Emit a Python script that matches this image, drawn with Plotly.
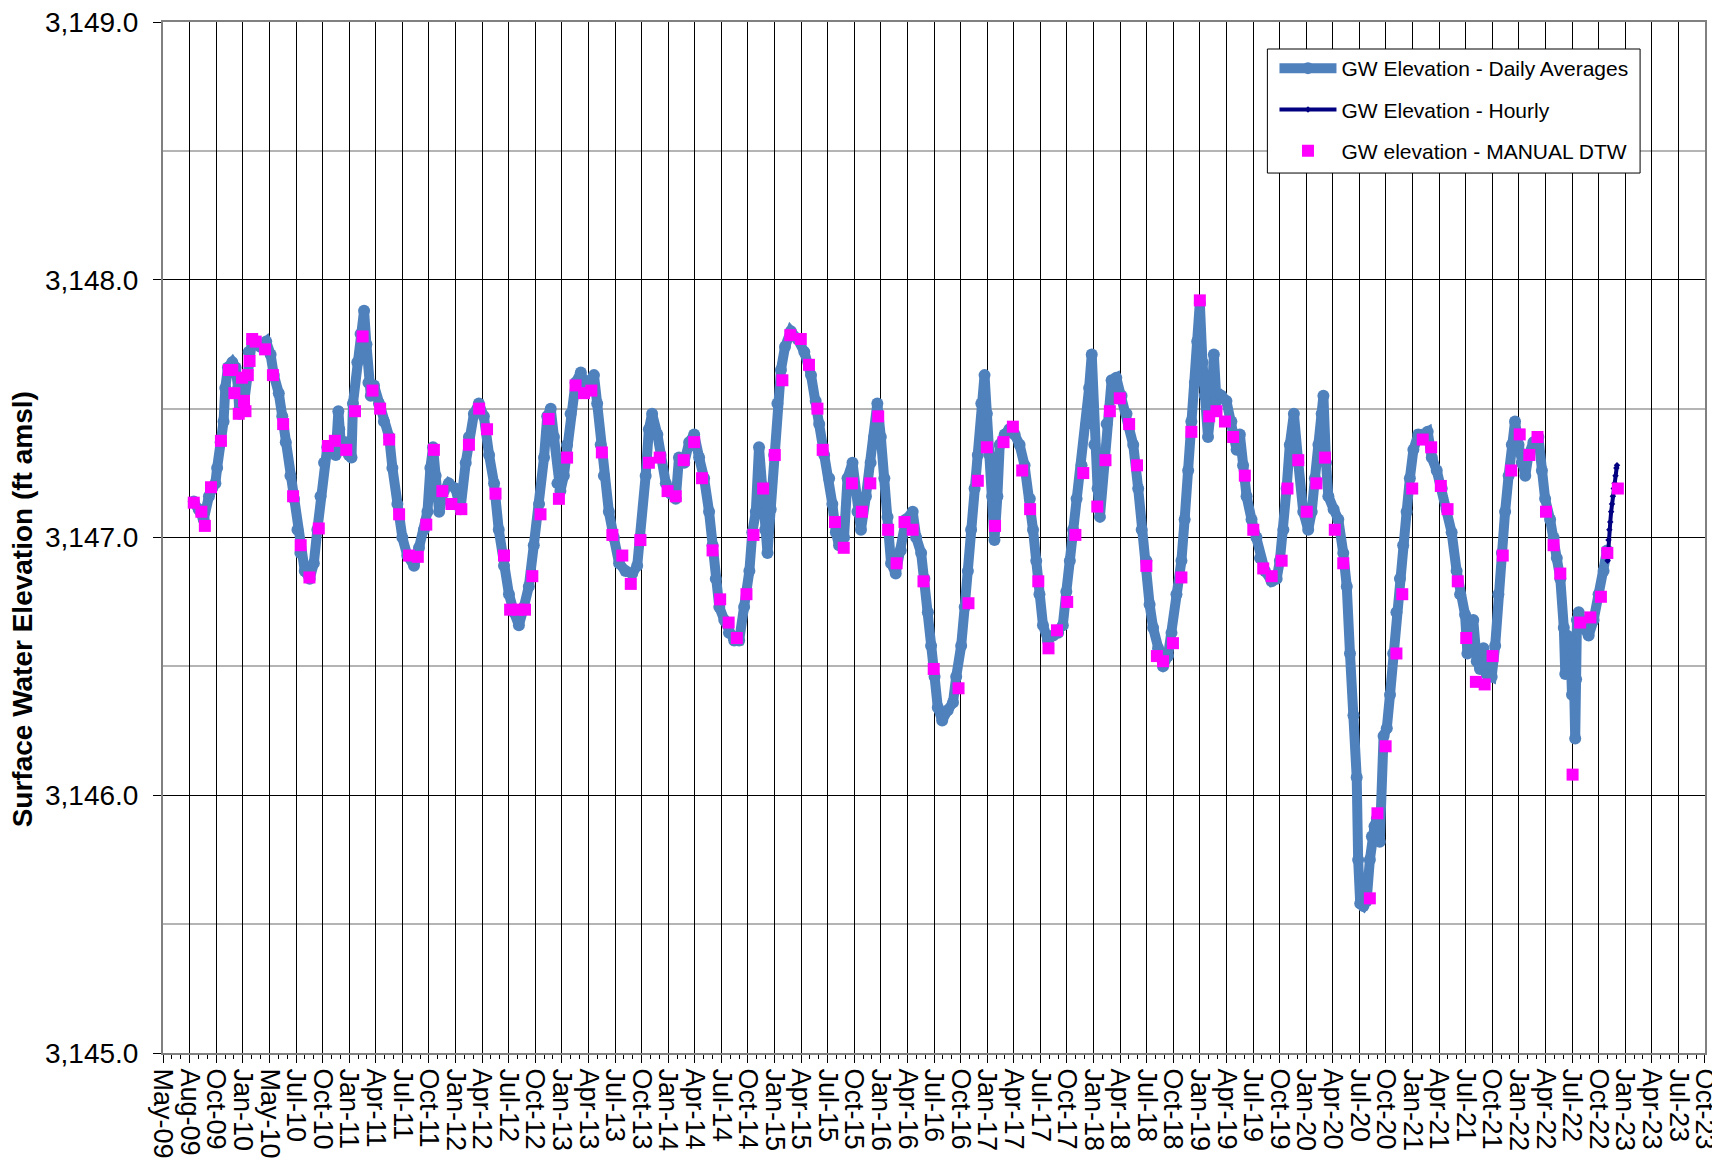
import pandas as pd
import plotly.graph_objects as go

# ---- data (dates as Excel serial day numbers) ----
daily_points = [
    (40040, 3147.14), (40057, 3147.11), (40074, 3147.07), (40092, 3147.16), (40102, 3147.19), (40114, 3147.21),
    (40120, 3147.27), (40132, 3147.37), (40142, 3147.45), (40148, 3147.58), (40157, 3147.66), (40172, 3147.68),
    (40183, 3147.66), (40192, 3147.58), (40196, 3147.48), (40212, 3147.52), (40223, 3147.63), (40228, 3147.72),
    (40240, 3147.77), (40251, 3147.75), (40268, 3147.74), (40288, 3147.76), (40303, 3147.71), (40314, 3147.63),
    (40331, 3147.56), (40343, 3147.47), (40355, 3147.37), (40371, 3147.24), (40383, 3147.15), (40395, 3147.03),
    (40405, 3146.94), (40420, 3146.87), (40437, 3146.84), (40451, 3146.90), (40463, 3147.03), (40474, 3147.16),
    (40486, 3147.29), (40497, 3147.35), (40514, 3147.36), (40526, 3147.32), (40535, 3147.49), (40538, 3147.42),
    (40543, 3147.37), (40560, 3147.37), (40571, 3147.32), (40580, 3147.31), (40585, 3147.52), (40600, 3147.68),
    (40611, 3147.79), (40623, 3147.88), (40631, 3147.75), (40638, 3147.60), (40646, 3147.55), (40657, 3147.59),
    (40674, 3147.52), (40691, 3147.45), (40709, 3147.39), (40720, 3147.27), (40737, 3147.13), (40754, 3147.00),
    (40771, 3146.93), (40794, 3146.89), (40811, 3146.96), (40828, 3147.03), (40840, 3147.10), (40850, 3147.27),
    (40859, 3147.35), (40868, 3147.24), (40880, 3147.10), (40896, 3147.18), (40913, 3147.21), (40936, 3147.19),
    (40953, 3147.11), (40971, 3147.29), (40982, 3147.39), (40999, 3147.48), (41016, 3147.52), (41033, 3147.47),
    (41051, 3147.32), (41068, 3147.21), (41084, 3147.03), (41102, 3146.89), (41119, 3146.78), (41136, 3146.71),
    (41153, 3146.66), (41170, 3146.73), (41187, 3146.81), (41204, 3146.97), (41222, 3147.13), (41239, 3147.31),
    (41250, 3147.47), (41262, 3147.50), (41273, 3147.39), (41285, 3147.21), (41295, 3147.18), (41307, 3147.24),
    (41318, 3147.36), (41330, 3147.48), (41347, 3147.60), (41365, 3147.64), (41381, 3147.58), (41398, 3147.61),
    (41410, 3147.63), (41421, 3147.52), (41433, 3147.36), (41444, 3147.24), (41461, 3147.10), (41478, 3147.00),
    (41496, 3146.90), (41518, 3146.87), (41541, 3146.86), (41558, 3146.89), (41569, 3147.00), (41587, 3147.24),
    (41598, 3147.42), (41609, 3147.48), (41627, 3147.40), (41638, 3147.32), (41656, 3147.21), (41673, 3147.17),
    (41690, 3147.15), (41701, 3147.31), (41719, 3147.29), (41736, 3147.37), (41753, 3147.40), (41770, 3147.31),
    (41787, 3147.23), (41804, 3147.10), (41816, 3146.97), (41827, 3146.84), (41839, 3146.73), (41856, 3146.68),
    (41872, 3146.63), (41890, 3146.60), (41907, 3146.60), (41924, 3146.73), (41942, 3146.87), (41952, 3147.02),
    (41964, 3147.10), (41975, 3147.35), (41987, 3147.20), (41996, 3147.03), (42004, 3146.94), (42015, 3147.11),
    (42027, 3147.32), (42038, 3147.52), (42050, 3147.65), (42064, 3147.74), (42084, 3147.80), (42107, 3147.77),
    (42130, 3147.72), (42153, 3147.63), (42169, 3147.53), (42181, 3147.44), (42198, 3147.32), (42215, 3147.23),
    (42226, 3147.13), (42238, 3147.02), (42249, 3146.97), (42266, 3147.00), (42278, 3147.23), (42295, 3147.29),
    (42312, 3147.10), (42324, 3147.03), (42341, 3147.16), (42357, 3147.29), (42369, 3147.39), (42380, 3147.52),
    (42392, 3147.39), (42404, 3147.23), (42415, 3147.08), (42427, 3146.90), (42443, 3146.86), (42460, 3146.95),
    (42478, 3147.07), (42501, 3147.10), (42513, 3147.00), (42530, 3146.94), (42541, 3146.84), (42553, 3146.71),
    (42564, 3146.58), (42576, 3146.46), (42587, 3146.34), (42602, 3146.29), (42621, 3146.33), (42639, 3146.36),
    (42650, 3146.46), (42667, 3146.58), (42679, 3146.73), (42690, 3146.87), (42701, 3147.03), (42713, 3147.19),
    (42724, 3147.32), (42736, 3147.52), (42747, 3147.63), (42755, 3147.48), (42764, 3147.32), (42773, 3147.16),
    (42781, 3146.99), (42791, 3147.16), (42799, 3147.36), (42816, 3147.40), (42832, 3147.42), (42850, 3147.40),
    (42867, 3147.36), (42884, 3147.28), (42902, 3147.15), (42913, 3147.03), (42924, 3146.91), (42935, 3146.78),
    (42947, 3146.66), (42964, 3146.60), (42982, 3146.62), (42999, 3146.63), (43015, 3146.66), (43027, 3146.79),
    (43039, 3146.91), (43050, 3147.03), (43062, 3147.15), (43079, 3147.28), (43096, 3147.44), (43105, 3147.58),
    (43114, 3147.71), (43123, 3147.36), (43134, 3147.19), (43142, 3147.08), (43154, 3147.28), (43165, 3147.44),
    (43182, 3147.61), (43198, 3147.62), (43216, 3147.55), (43233, 3147.48), (43256, 3147.36), (43273, 3147.19),
    (43285, 3147.03), (43301, 3146.91), (43312, 3146.74), (43324, 3146.65), (43341, 3146.57), (43358, 3146.50),
    (43375, 3146.54), (43387, 3146.63), (43404, 3146.78), (43421, 3146.91), (43432, 3147.07), (43444, 3147.26),
    (43455, 3147.45), (43467, 3147.60), (43475, 3147.76), (43484, 3147.91), (43493, 3147.68), (43501, 3147.55),
    (43512, 3147.39), (43524, 3147.52), (43532, 3147.71), (43541, 3147.53), (43558, 3147.55), (43575, 3147.53),
    (43592, 3147.45), (43610, 3147.34), (43621, 3147.40), (43632, 3147.28), (43644, 3147.16), (43661, 3147.07),
    (43678, 3147.00), (43690, 3146.92), (43707, 3146.87), (43730, 3146.83), (43747, 3146.84), (43758, 3146.91),
    (43770, 3147.03), (43781, 3147.19), (43792, 3147.36), (43806, 3147.48), (43821, 3147.29), (43838, 3147.10),
    (43855, 3147.03), (43867, 3147.10), (43878, 3147.23), (43890, 3147.36), (43901, 3147.48), (43907, 3147.55),
    (43916, 3147.29), (43924, 3147.16), (43942, 3147.11), (43958, 3147.07), (43975, 3146.94), (43987, 3146.81),
    (43998, 3146.55), (44010, 3146.31), (44021, 3146.07), (44026, 3145.75), (44033, 3145.58), (44044, 3145.57),
    (44055, 3145.59), (44066, 3145.75), (44073, 3145.84), (44082, 3145.88), (44090, 3145.91), (44100, 3145.82),
    (44113, 3146.23), (44124, 3146.26), (44135, 3146.39), (44146, 3146.55), (44157, 3146.71), (44169, 3146.84),
    (44180, 3146.97), (44192, 3147.10), (44203, 3147.23), (44215, 3147.34), (44232, 3147.40), (44249, 3147.40),
    (44264, 3147.41), (44278, 3147.31), (44295, 3147.26), (44312, 3147.19), (44329, 3147.11), (44346, 3147.02),
    (44363, 3146.87), (44375, 3146.78), (44392, 3146.70), (44400, 3146.55), (44409, 3146.66), (44420, 3146.68),
    (44432, 3146.52), (44443, 3146.49), (44455, 3146.57), (44466, 3146.47), (44483, 3146.46), (44495, 3146.58),
    (44506, 3146.78), (44518, 3146.94), (44529, 3147.10), (44541, 3147.24), (44552, 3147.36), (44563, 3147.45),
    (44575, 3147.36), (44586, 3147.29), (44598, 3147.24), (44609, 3147.32), (44626, 3147.37), (44643, 3147.39),
    (44655, 3147.26), (44666, 3147.15), (44683, 3147.07), (44695, 3147.00), (44706, 3146.92), (44718, 3146.84),
    (44730, 3146.65), (44735, 3146.47), (44741, 3146.62), (44746, 3146.50), (44752, 3146.60), (44758, 3146.39),
    (44763, 3146.55), (44769, 3146.22), (44772, 3146.45), (44775, 3146.68), (44781, 3146.71), (44798, 3146.65),
    (44815, 3146.62), (44832, 3146.68), (44849, 3146.78), (44866, 3146.87), (44878, 3146.95),
]

hourly_points = [
    (44880, 3146.91), (44883, 3146.99), (44886, 3147.03), (44889, 3147.06), (44892, 3147.10), (44895, 3147.13),
    (44898, 3147.16), (44901, 3147.19), (44904, 3147.21), (44907, 3147.24), (44910, 3147.27), (44912, 3147.28),
]

manual_points = [
    (40040, 3147.135), (40066, 3147.10), (40078, 3147.045), (40099, 3147.195), (40133, 3147.375), (40160, 3147.65),
    (40172, 3147.65), (40179, 3147.56), (40194, 3147.48), (40205, 3147.62), (40212, 3147.53), (40217, 3147.49),
    (40225, 3147.63), (40231, 3147.685), (40240, 3147.77), (40252, 3147.76), (40284, 3147.73), (40311, 3147.63),
    (40346, 3147.44), (40380, 3147.16), (40406, 3146.97), (40436, 3146.845), (40468, 3147.035), (40499, 3147.355),
    (40523, 3147.375), (40562, 3147.34), (40592, 3147.49), (40618, 3147.78), (40652, 3147.57), (40678, 3147.50),
    (40709, 3147.38), (40743, 3147.09), (40777, 3146.93), (40807, 3146.925), (40836, 3147.05), (40862, 3147.34),
    (40891, 3147.18), (40922, 3147.13), (40956, 3147.11), (40982, 3147.36), (41017, 3147.50), (41044, 3147.42),
    (41073, 3147.17), (41102, 3146.93), (41123, 3146.72), (41151, 3146.72), (41174, 3146.72), (41199, 3146.85),
    (41227, 3147.09), (41255, 3147.46), (41290, 3147.15), (41318, 3147.31), (41347, 3147.59), (41376, 3147.56),
    (41401, 3147.57), (41437, 3147.33), (41473, 3147.01), (41507, 3146.93), (41536, 3146.82), (41569, 3146.99),
    (41598, 3147.29), (41635, 3147.31), (41662, 3147.18), (41690, 3147.16), (41717, 3147.30), (41753, 3147.37),
    (41780, 3147.23), (41816, 3146.95), (41842, 3146.76), (41871, 3146.67), (41899, 3146.61), (41932, 3146.78),
    (41956, 3147.01), (41989, 3147.19), (42029, 3147.32), (42055, 3147.61), (42082, 3147.785), (42118, 3147.77),
    (42146, 3147.67), (42175, 3147.50), (42193, 3147.34), (42235, 3147.06), (42265, 3146.96), (42293, 3147.21),
    (42327, 3147.10), (42356, 3147.21), (42383, 3147.47), (42417, 3147.03), (42446, 3146.90), (42473, 3147.06),
    (42501, 3147.03), (42538, 3146.83), (42573, 3146.49), (42658, 3146.415), (42692, 3146.745), (42724, 3147.22),
    (42755, 3147.35), (42783, 3147.045), (42812, 3147.37), (42844, 3147.43), (42876, 3147.26), (42903, 3147.11),
    (42931, 3146.83), (42966, 3146.57), (42995, 3146.64), (43030, 3146.75), (43058, 3147.01), (43085, 3147.25),
    (43133, 3147.12), (43161, 3147.30), (43176, 3147.49), (43210, 3147.54), (43242, 3147.44), (43269, 3147.28),
    (43301, 3146.89), (43337, 3146.54), (43358, 3146.52), (43392, 3146.59), (43421, 3146.845), (43455, 3147.41),
    (43484, 3147.92), (43516, 3147.47), (43541, 3147.49), (43570, 3147.45), (43598, 3147.39), (43638, 3147.24),
    (43667, 3147.03), (43701, 3146.88), (43730, 3146.85), (43764, 3146.91), (43784, 3147.19), (43821, 3147.30),
    (43850, 3147.10), (43883, 3147.21), (43912, 3147.31), (43946, 3147.03), (43975, 3146.90), (44066, 3145.60),
    (44092, 3145.93), (44120, 3146.19), (44157, 3146.55), (44177, 3146.78), (44211, 3147.19), (44247, 3147.38),
    (44276, 3147.35), (44309, 3147.20), (44332, 3147.11), (44367, 3146.83), (44396, 3146.61), (44429, 3146.44),
    (44459, 3146.43), (44486, 3146.54), (44521, 3146.93), (44550, 3147.26), (44579, 3147.40), (44612, 3147.32),
    (44640, 3147.39), (44669, 3147.10), (44695, 3146.97), (44718, 3146.86), (44760, 3146.08), (44786, 3146.67),
    (44821, 3146.69), (44857, 3146.77), (44879, 3146.94), (44915, 3147.19),
]

tick_labels = [
    "May-09", "Aug-09", "Oct-09", "Jan-10", "May-10", "Jul-10", "Oct-10", "Jan-11",
    "Apr-11", "Jul-11", "Oct-11",
    "Jan-12", "Apr-12", "Jul-12", "Oct-12", "Jan-13", "Apr-13", "Jul-13", "Oct-13",
    "Jan-14", "Apr-14", "Jul-14", "Oct-14", "Jan-15", "Apr-15", "Jul-15", "Oct-15",
    "Jan-16", "Apr-16", "Jul-16", "Oct-16", "Jan-17", "Apr-17", "Jul-17", "Oct-17",
    "Jan-18", "Apr-18", "Jul-18", "Oct-18", "Jan-19", "Apr-19", "Jul-19", "Oct-19",
    "Jan-20", "Apr-20", "Jul-20", "Oct-20", "Jan-21", "Apr-21", "Jul-21", "Oct-21",
    "Jan-22", "Apr-22", "Jul-22", "Oct-22", "Jan-23", "Apr-23", "Jul-23", "Oct-23",
]
axis_start_serial = 39935   # first x tick (Excel serial)
axis_major_days = 91        # Excel major unit (days)


def to_dates(serials):
    return pd.to_datetime(pd.Series(serials, dtype=float), unit="D", origin="1899-12-30")


d_x = to_dates([p[0] for p in daily_points]); d_y = [p[1] for p in daily_points]
h_x = to_dates([p[0] for p in hourly_points]); h_y = [p[1] for p in hourly_points]
m_x = to_dates([p[0] for p in manual_points]); m_y = [p[1] for p in manual_points]

tick_serials = [axis_start_serial + axis_major_days * i for i in range(len(tick_labels))]
tick_dates = to_dates(tick_serials)
x_range = to_dates([tick_serials[0] - 0.3, tick_serials[-1] + 0.3])

FONT = "Liberation Sans, Arial, sans-serif"

fig = go.Figure()
fig.add_trace(go.Scatter(
    x=d_x, y=d_y, mode="lines+markers", name="GW Elevation - Daily Averages",
    line=dict(color="#4F81BD", width=10), marker=dict(color="#4F81BD", size=12, symbol="circle"),
    legendgroup="a",
))
fig.add_trace(go.Scatter(
    x=h_x, y=h_y, mode="lines+markers", name="GW Elevation - Hourly",
    line=dict(color="#000080", width=4), marker=dict(color="#000080", size=5, symbol="diamond"),
    legendgroup="b",
))
fig.add_trace(go.Scatter(
    x=m_x, y=m_y, mode="markers", name="GW elevation - MANUAL DTW",
    marker=dict(color="#FF00FF", size=12, symbol="square", line=dict(width=0)),
    legendgroup="c",
))

fig.update_layout(
    width=1712, height=1156,
    margin=dict(l=155, r=15, t=14, b=111),
    paper_bgcolor="white", plot_bgcolor="white",
    font=dict(family=FONT, color="black", size=27),
    showlegend=True,
    legend=dict(
        x=0.7208, xanchor="left", y=0.9748, yanchor="top",
        bgcolor="rgba(0,0,0,0)", borderwidth=0,
        font=dict(family=FONT, size=21, color="black"),
        itemwidth=57, tracegroupgap=11, traceorder="grouped",
    ),
    xaxis=dict(
        type="date", automargin=False,
        range=[x_range.iloc[0], x_range.iloc[1]],
        tickmode="array", tickvals=list(tick_dates), ticktext=tick_labels,
        tickangle=90, tickfont=dict(family=FONT, size=27, color="black"),
        ticklabeloverflow="allow",
        ticks="outside", ticklen=8, tickcolor="black", tickwidth=1,
        showgrid=True, gridcolor="black", gridwidth=1,
        showline=True, linecolor="#808080", linewidth=2, mirror=True,
        zeroline=False,
        minor=dict(tick0=tick_dates.iloc[0], dtick=axis_major_days / 3 * 86400000,
                   ticks="outside", ticklen=4, tickcolor="black", showgrid=False),
    ),
    yaxis=dict(
        range=[3145, 3149], dtick=1, tick0=3145, automargin=False,
        tickformat=",.1f", tickfont=dict(family=FONT, size=28, color="black"),
        ticklabeloverflow="allow",
        ticks="outside", ticklen=8, tickcolor="black",
        ticklabelstandoff=9,
        showgrid=True, gridcolor="black", gridwidth=1,
        showline=True, linecolor="#808080", linewidth=2, mirror=True,
        zeroline=False,
        minor=dict(dtick=0.5, tick0=3145, showgrid=True, gridcolor="#b4b4b4", gridwidth=2, ticks=""),
    ),
)

# legend frame
fig.add_shape(
    type="rect", xref="paper", yref="paper",
    x0=0.7162, x1=0.9579, y0=0.8535, y1=0.9738,
    line=dict(color="black", width=1), fillcolor="white", layer="above",
)

fig.add_annotation(
    text="<b>Surface Water Elevation (ft amsl)</b>",
    xref="paper", yref="paper", x=-0.091, y=0.43,
    xanchor="center", yanchor="middle", textangle=-90, showarrow=False,
    font=dict(family=FONT, size=28, color="black"),
)

fig.write_html("out.html")
